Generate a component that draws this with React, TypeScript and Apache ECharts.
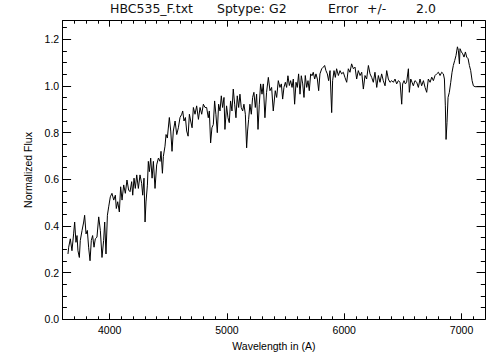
import React, { useEffect, useRef } from "react";
import * as echarts from "echarts";

// Wavelength (Angstrom) and normalized flux
const wavelength: number[] = [
  3645, 3651, 3665, 3679, 3693, 3702, 3713, 3722, 3730, 3742, 3750, 3765, 3779, 3787, 3799, 3810,
  3821, 3833, 3844, 3855, 3867, 3878, 3892, 3907, 3921, 3935, 3949, 3958, 3969, 3981, 3992, 4006,
  4020, 4035, 4049, 4057, 4069, 4083, 4094, 4106, 4120, 4134, 4148, 4162,
  4174, 4188, 4197, 4208, 4219, 4231, 4245, 4259, 4273, 4282, 4293, 4302, 4310, 4322, 4330, 4339,
  4350, 4362, 4373, 4387, 4401, 4416, 4430, 4438, 4450, 4458, 4472, 4481, 4492, 4509, 4521, 4532,
  4543, 4558, 4572, 4586, 4600, 4615, 4623, 4634, 4646, 4657, 4669, 4680, 4691, 4703, 4714, 4728,
  4742, 4757, 4771, 4785, 4799, 4813,
  4827, 4841, 4850, 4861, 4872, 4884, 4895, 4906, 4918, 4929, 4941, 4952, 4963, 4975, 4983, 4997,
  5009, 5020, 5031, 5043, 5054, 5066, 5077, 5088, 5100, 5111, 5122, 5134, 5145, 5157, 5168, 5176,
  5185, 5196, 5208, 5219, 5230, 5242, 5253, 5265, 5276, 5287, 5299, 5310, 5324, 5338, 5353, 5367,
  5381, 5395,
  5412, 5424, 5438, 5452, 5464, 5475, 5486, 5498, 5509, 5520, 5532, 5543, 5555, 5566, 5577, 5589,
  5600, 5611, 5623, 5634, 5646, 5657, 5668, 5680, 5691, 5702, 5714, 5725, 5736, 5748, 5759, 5771,
  5782, 5793, 5808, 5822, 5833, 5844, 5856, 5867, 5879, 5893, 5901, 5913, 5924, 5935, 5950, 5964,
  5978, 5992, 6006,
  6021, 6035, 6049, 6063, 6078, 6092, 6106, 6120, 6135, 6149, 6163, 6177, 6191, 6206, 6220, 6234,
  6248, 6262, 6277, 6291, 6305, 6319, 6333, 6348, 6362, 6376, 6390, 6405, 6419, 6433, 6447, 6461,
  6476, 6490, 6498, 6510, 6521, 6532, 6547, 6555, 6567, 6578, 6589, 6603,
  6618, 6632, 6646, 6660, 6675, 6689, 6703, 6717, 6732, 6746, 6760, 6774, 6788, 6803, 6817, 6831,
  6845, 6854, 6862, 6868, 6876, 6885, 6896, 6908, 6919, 6930, 6942, 6953, 6965, 6973, 6982, 6987,
  6999, 7010, 7021, 7033, 7044, 7056, 7067, 7078, 7090, 7101, 7115, 7200,
];

const flux: number[] = [
  0.28, 0.309, 0.345, 0.294, 0.366, 0.417, 0.33, 0.359, 0.294, 0.265, 0.338, 0.381, 0.417, 0.446, 0.366, 0.381,
  0.309, 0.251, 0.338, 0.359, 0.309, 0.345, 0.352, 0.439, 0.381, 0.265, 0.338, 0.417, 0.28, 0.446, 0.482, 0.525,
  0.54, 0.511, 0.532, 0.475, 0.504, 0.46, 0.568, 0.511, 0.576, 0.54, 0.597, 0.554,
  0.547, 0.59, 0.532, 0.605, 0.561, 0.619, 0.561, 0.619, 0.583, 0.532, 0.605, 0.417, 0.503, 0.575, 0.677, 0.633,
  0.691, 0.605, 0.677, 0.561, 0.662, 0.691, 0.677, 0.72, 0.626, 0.698, 0.742, 0.792, 0.777, 0.865, 0.807, 0.72,
  0.807, 0.85, 0.792, 0.821, 0.865, 0.879, 0.893, 0.85, 0.865, 0.807, 0.785, 0.879, 0.85, 0.821, 0.908, 0.879,
  0.915, 0.857, 0.908, 0.879, 0.922, 0.908,
  0.908, 0.864, 0.893, 0.756, 0.821, 0.835, 0.936, 0.879, 0.8, 0.922, 0.893, 0.958, 0.908, 0.951, 0.814, 0.915,
  0.864, 0.843, 0.936, 0.893, 0.987, 0.922, 0.864, 0.958, 0.908, 0.965, 0.908, 0.893, 0.922, 0.879, 0.735, 0.807,
  0.857, 0.922, 0.879, 0.951, 0.973, 0.908, 0.965, 0.814, 0.922, 1.009, 0.965, 1.009, 0.864, 0.973, 1.037, 0.98,
  0.994, 0.893,
  0.98, 0.951, 1.023, 0.994, 1.009, 0.944, 0.994, 1.016, 0.994, 1.044, 1.002, 1.023, 0.994, 1.03, 0.922, 1.016,
  0.994, 1.052, 0.965, 1.044, 1.009, 0.951, 1.045, 0.994, 1.023, 0.98, 1.052, 1.044, 1.059, 1.03, 1.052, 1.03,
  0.98, 1.052, 1.074, 1.081, 1.088, 1.066, 1.052, 1.023, 1.066, 0.886, 1.023, 1.066, 1.037, 1.074, 1.045, 1.066,
  1.052, 1.059, 1.037,
  1.016, 1.074, 1.059, 1.095, 1.074, 1.081, 1.03, 1.066, 1.045, 1.059, 0.987, 1.045, 1.03, 1.088, 1.052, 1.037,
  1.016, 1.059, 0.994, 1.045, 1.016, 1.052, 1.023, 1.001, 1.066, 1.03, 1.016, 1.023, 1.016, 1.03, 1.009, 1.023,
  1.016, 0.922, 1.009, 1.023, 1.009, 1.016, 1.074, 0.973, 1.03, 1.016, 1.001, 1.023,
  1.016, 0.994, 1.03, 1.001, 1.023, 0.994, 0.973, 1.03, 1.016, 1.038, 1.023, 1.045, 1.052, 1.059, 1.045, 1.059,
  1.052, 1.03, 0.915, 0.771, 0.843, 0.951, 0.973, 1.016, 1.059, 1.088, 1.11, 1.131, 1.168, 1.153, 1.095, 1.16,
  1.146, 1.138, 1.124, 1.146, 1.124, 1.117, 1.088, 1.066, 1.023, 1.001, 0.997, 0.997,
];

const xMajorTicks: number[] = [4000, 5000, 6000, 7000];
const titleParts: string[] = ["HBC535_F.txt", "Sptype: G2", "Error", "+/-", "2.0"];
const xTitle = "Wavelength in (A)";
const yTitle = "Normalized Flux";

const X_MIN = 3600;
const X_MAX = 7200;
const Y_MIN = 0;
const Y_MAX = 1.28;

export default function App() {
  const ref = useRef<HTMLDivElement>(null);

  useEffect(() => {
    if (!ref.current) return;
    const chart = echarts.init(ref.current, undefined, { renderer: "svg" });
    const black = "#000";
    const labelFont = { color: black, fontSize: 10.5, fontFamily: "Liberation Sans" };

    const baseX = { type: "value" as const, min: X_MIN, max: X_MAX, splitLine: { show: false } };
    const baseY = { type: "value" as const, min: Y_MIN, max: Y_MAX, splitLine: { show: false } };

    const data = wavelength.map((w, i) => [w, flux[i]]);

    const titleX = [110, 217, 328, 367, 416];

    chart.setOption({
      animation: false,
      backgroundColor: "#fff",
      grid: { left: 62.7, right: 19, top: 20.7, bottom: 40.7, containLabel: false, outerBoundsMode: "none" },
      xAxis: [
        {
          ...baseX,
          position: "bottom",
          axisLine: { show: true, onZero: false, lineStyle: { color: black, width: 1 } },
          axisTick: { show: true, inside: true, length: 6, customValues: xMajorTicks, lineStyle: { color: black } },
          axisLabel: {
            ...labelFont,
            customValues: xMajorTicks,
            margin: 5.5,
            formatter: (v: number) => String(Math.round(v)),
          },
          name: xTitle,
          nameLocation: "middle",
          nameGap: 15.5,
          nameTextStyle: { ...labelFont },
        },
        {
          ...baseX,
          position: "bottom",
          interval: 100,
          axisLine: { show: false, onZero: false },
          axisTick: { show: true, inside: true, length: 3, lineStyle: { color: black } },
          axisLabel: { show: false },
        },
        {
          ...baseX,
          position: "top",
          axisLine: { show: true, onZero: false, lineStyle: { color: black, width: 1 } },
          axisTick: { show: true, inside: true, length: 6, customValues: xMajorTicks, lineStyle: { color: black } },
          axisLabel: { show: false },
        },
        {
          ...baseX,
          position: "top",
          interval: 100,
          axisLine: { show: false, onZero: false },
          axisTick: { show: true, inside: true, length: 3, lineStyle: { color: black } },
          axisLabel: { show: false },
        },
      ],
      yAxis: [
        {
          ...baseY,
          position: "left",
          interval: 0.2,
          axisLine: { show: true, onZero: false, lineStyle: { color: black, width: 1 } },
          axisTick: { show: true, inside: true, length: 8.4, lineStyle: { color: black } },
          axisLabel: {
            ...labelFont,
            margin: 3.5,
            showMaxLabel: false,
            formatter: (v: number) => v.toFixed(1),
          },
          name: yTitle,
          nameLocation: "middle",
          nameGap: 25,
          nameTextStyle: { ...labelFont },
        },
        {
          ...baseY,
          position: "left",
          interval: 0.05,
          axisLine: { show: false, onZero: false },
          axisTick: { show: true, inside: true, length: 4.2, lineStyle: { color: black } },
          axisLabel: { show: false },
        },
        {
          ...baseY,
          position: "right",
          interval: 0.2,
          axisLine: { show: true, onZero: false, lineStyle: { color: black, width: 1 } },
          axisTick: { show: true, inside: true, length: 8.4, lineStyle: { color: black } },
          axisLabel: { show: false },
        },
        {
          ...baseY,
          position: "right",
          interval: 0.05,
          axisLine: { show: false, onZero: false },
          axisTick: { show: true, inside: true, length: 4.2, lineStyle: { color: black } },
          axisLabel: { show: false },
        },
      ],
      graphic: titleParts.map((t, i) => ({
        type: "text",
        left: titleX[i],
        top: 2,
        style: { text: t, fill: "#111", fontSize: 12.5, fontFamily: "DejaVu Sans" },
      })),
      series: [
        {
          type: "line",
          xAxisIndex: 0,
          yAxisIndex: 0,
          data,
          showSymbol: false,
          symbol: "none",
          lineStyle: { color: black, width: 1 },
          silent: true,
        },
      ],
    });

    return () => chart.dispose();
  }, []);

  return (
    <div
      ref={ref}
      style={{ position: "fixed", left: 0, top: 0, width: 504, height: 360, background: "#fff" }}
    />
  );
}
